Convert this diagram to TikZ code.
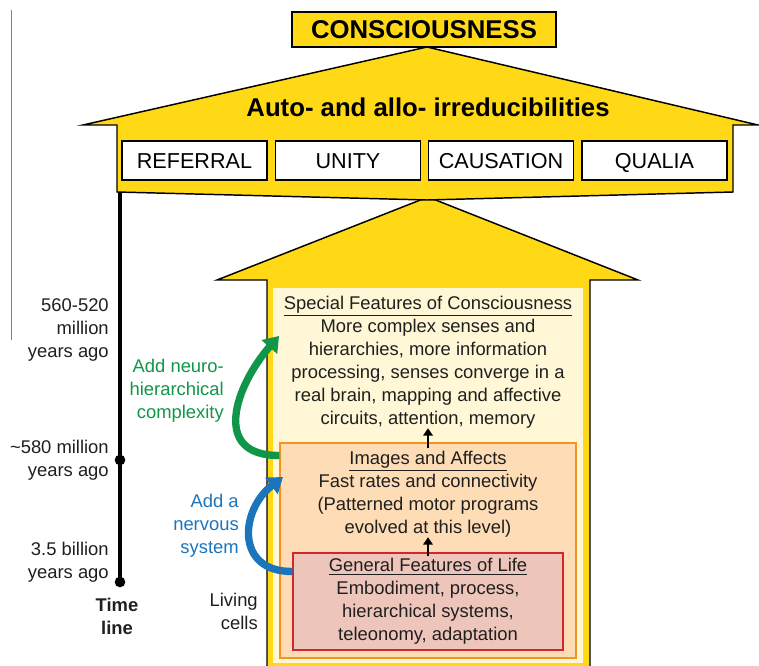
\documentclass[tikz,border=0pt]{standalone}
\usepackage{fontspec}
\setmainfont{Liberation Sans}
\usetikzlibrary{arrows.meta,fit,calc}

\definecolor{goldfill}{RGB}{255,217,22}
\definecolor{creamfill}{RGB}{255,247,214}
\definecolor{peachfill}{RGB}{253,220,182}
\definecolor{peachline}{RGB}{246,146,30}
\definecolor{rosefill}{RGB}{238,197,186}
\definecolor{roseline}{RGB}{212,36,44}
\definecolor{neurogreen}{RGB}{16,150,72}
\definecolor{nerveblue}{RGB}{28,117,188}

\tikzset{
  outline/.style={draw=black, line width=1.1pt, line join=miter},
  bodytext/.style={font=\fontsize{13.8}{17.2}\selectfont, inner sep=0pt, text=black!88},
  headtext/.style={font=\fontsize{19.3}{22}\selectfont\bfseries, inner sep=0pt},
  quality/.style={outline, fill=white, minimum width=108.75pt, minimum height=29.25pt,
    inner sep=0pt, text height=11.6pt, text depth=0pt, font=\fontsize{16.2}{18}\selectfont},
  layerbox/.style={inner sep=0pt, line width=0.8pt},
  smallup/.style={line width=1.8pt, -{Triangle[width=7pt,length=5.5pt]}},
  bigcurve/.style={line width=5.5pt, -{Triangle[width=15pt,length=11pt]}},
  tdot/.style={circle, fill=black, inner sep=0pt, minimum size=8pt}
}

\begin{document}
\begin{tikzpicture}[x=0.75pt,y=-0.75pt]
\useasboundingbox (0,0) rectangle (759,666);

% stray margin rule
\draw[gray, line width=0.6pt] (11,10) -- (11,340);

% ---- lower arrow ----
\fill[goldfill] (267,667) -- (267,280) -- (217,280) -- (428,197) -- (638,280) -- (590,280) -- (590,667) -- cycle;
\draw[outline] (267,667) -- (267,280) -- (217,280) -- (428,197) -- (638,280) -- (590,280) -- (590,667);

% ---- upper arrow ----
\filldraw[outline, fill=goldfill] (117,192) -- (117,125) -- (83,125) -- (427,47) -- (758,125)
  -- (733,125) -- (733,192) -- (427,200) -- cycle;

\node[outline, fill=goldfill, minimum width=198pt, minimum height=26.25pt, inner sep=0pt,
  headtext] (conscious) at (424,29.5) {CONSCIOUSNESS};
\node[headtext] (irred) at (428,107) {Auto- and allo- irreducibilities};

% Qualities
\node[quality] (referral) at (194.5,160.5) {REFERRAL};
\node[quality] (unity) at (348,160.5) {UNITY};
\node[quality] (causation) at (501,160.5) {CAUSATION};
\node[quality] (qualia) at (654.5,160.5) {QUALIA};

% ---- nested layers ----
\node[layerbox, fill=creamfill, fit={(273,288) (583,663)}] (special) {};
\node[layerbox, draw=peachline, fill=peachfill, fit={(280,443) (576,658)}] (imgbox) {};
\node[layerbox, draw=roseline, fill=rosefill, fit={(293,553) (563,650)}] (lifebox) {};

\node[bodytext, align=center] (spectext) at (428,362)
  {\underline{Special Features of Consciousness}\\
   More complex senses and\\
   hierarchies, more information\\
   processing, senses converge in a\\
   real brain, mapping and affective\\
   circuits, attention, memory};
\node[bodytext, align=center] (imgtext) at (428,494)
  {\underline{Images and Affects}\\
   Fast rates and connectivity\\
   (Patterned motor programs\\
   evolved at this level)};
\node[bodytext, align=center] (lifetext) at (428,601.5)
  {\underline{General Features of Life}\\
   Embodiment, process,\\
   hierarchical systems,\\
   teleonomy, adaptation};

\draw[smallup] ($(imgbox.north)+(0,6)$) -- (spectext.south);
\draw[smallup] ($(lifebox.north)+(0,4)$) -- (imgtext.south);

% ---- evolutionary steps ----
\coordinate (greentip) at (279,336);
\coordinate (bluetip) at (283,477);
\draw[bigcurve, neurogreen] ($(imgbox.north west)+(0,13)$) .. controls (210,456) and (236,385) .. (greentip);
\draw[bigcurve, nerveblue] ($(lifebox.north west)+(0,19)$) .. controls (235,572) and (240,510) .. (bluetip);

\node[bodytext, align=right, anchor=east, text=neurogreen] (greenlbl) at (224,391)
  {Add neuro-\\hierarchical\\complexity};
\node[bodytext, align=right, anchor=east, text=nerveblue] (bluelbl) at (239,525.5)
  {Add a\\nervous\\system};
\node[bodytext, align=right, anchor=east] (cells) at (258,611.5) {Living\\cells};

% ---- time line ----
\coordinate (tstart) at (120,192);
\node[tdot] (t580) at (120,460) {};
\node[tdot] (t35) at (120,582) {};
\draw[line width=3pt] (tstart) -- (t35.center);

\node[bodytext, align=right, anchor=east] (age560) at (109,330) {560-520\\million\\years ago};
\node[bodytext, align=right, anchor=east] (age580) at (109,460.5) {\textasciitilde580 million\\years ago};
\node[bodytext, align=right, anchor=east] (age35) at (109,562) {3.5 billion\\years ago};
\node[bodytext, align=center, font=\fontsize{13.8}{17.2}\selectfont\bfseries] (tline) at (117,616.5) {Time\\line};

\end{tikzpicture}
\end{document}
